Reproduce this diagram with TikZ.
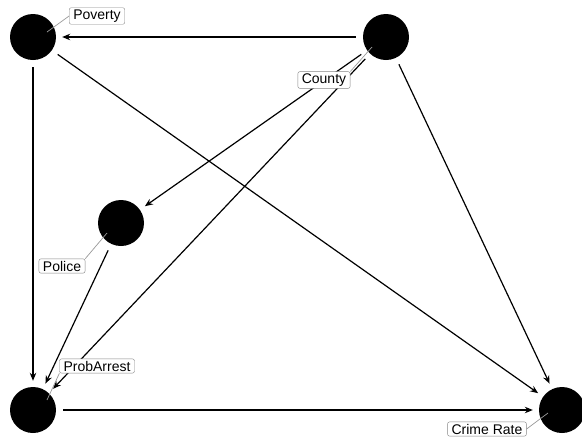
\documentclass[tikz,border=0pt]{standalone}
\usepackage{fontspec}
\setmainfont{Liberation Sans}
\usetikzlibrary{arrows.meta,positioning}

\begin{document}
\begin{tikzpicture}[x=1pt,y=-1pt,
  var/.style={circle,fill=black,minimum size=46pt,inner sep=0pt},
  tag/.style={draw=gray!95,fill=white,rounded corners=2pt,
              font=\fontsize{14}{16}\selectfont,inner xsep=4pt,inner ysep=2pt},
  edge/.style={-{Stealth[length=8pt,width=6.5pt]},line width=1.2pt,
               shorten <=7pt,shorten >=6pt},
  lead/.style={gray!80,line width=0.7pt}
]
\useasboundingbox (0,0) rectangle (582,437);

%% Variables
\node[var] (pov) at (33,37)  {};
\node[var] (cty) at (386,37) {};
\node[var] (pol) at (121,223) {};
\node[var] (arr) at (33,410) {};
\node[var] (crm) at (562,410) {};

%% Causal edges
\draw[edge] (cty) -- (pov);
\draw[edge] (pov) -- (arr);
\draw[edge] (pov) -- (crm);
\draw[edge] (cty) -- (pol);
\draw[edge] (cty) -- (arr);
\draw[edge] (cty) -- (crm);
\draw[edge] (pol) -- (arr);
\draw[edge] (arr) -- (crm);

%% Label anchors inside the circles
\coordinate (povp) at (47,32);
\coordinate (ctyp) at (372,47);
\coordinate (polp) at (107,233);
\coordinate (arrp) at (47,400);
\coordinate (crmp) at (548,413);

%% Labels
\node[tag] (povl) at (97,16)  {Poverty};
\node[tag] (ctyl) at (324,80) {County};
\node[tag] (poll) at (62,266) {Police};
\node[tag] (arrl) at (97,366) {ProbArrest};
\node[tag] (crml) at (487,429) {Crime Rate};

\draw[lead] (povl.west) -- (povp);
\draw[lead] (ctyl.north east) -- (ctyp);
\draw[lead] (poll.north east) -- (polp);
\draw[lead] (arrl.south west) -- (arrp);
\draw[lead] (crml.east) -- (crmp);
\end{tikzpicture}
\end{document}
